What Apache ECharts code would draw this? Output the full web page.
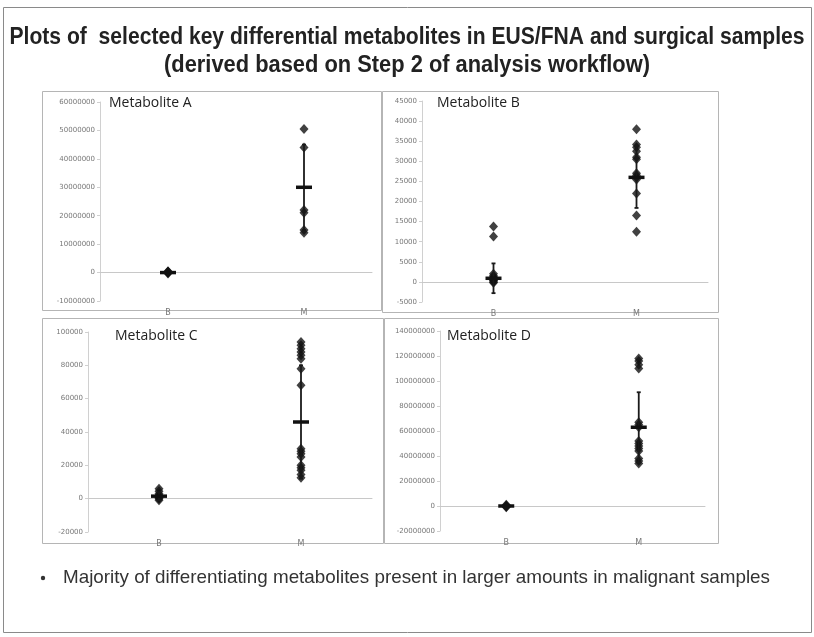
<!DOCTYPE html>
<html><head><meta charset="utf-8">
<script src="https://cdn.jsdelivr.net/npm/echarts@6/dist/echarts.min.js"></script>
<style>html,body{margin:0;padding:0;background:#fff}#c{width:814px;height:637px}</style>
</head><body><div id="c"></div>
<script>
// ---- data ----
const categories = ['B', 'M'];
const panelTitles = ['Metabolite A', 'Metabolite B', 'Metabolite C', 'Metabolite D'];
// Metabolite A
const aB = [0, 200000, -300000, 500000, -100000, 100000, 300000];
const aM = [50500000, 44000000, 22000000, 21000000, 15000000, 14000000];
const aMean = [0, 30000000];
const aSd = [300000, 15000000];
// Metabolite B
const bB = [13800, 11300, 2000, 1500, 1200, 1000, 800, 600, 500, 300, 0, -200];
const bM = [38000, 34200, 33500, 32500, 31000, 30500, 27000, 26500, 26000, 25500, 22000, 16500, 12500];
const bMean = [900, 26000];
const bSd = [3700, 7600];
// Metabolite C
const cB = [6000, 4500, 3000, 2000, 1000, 500, 0, -1000];
const cM = [94000, 92000, 90000, 88000, 86000, 84000, 78000, 68000, 30000, 28500, 27000, 25000, 20000, 18500, 17000, 14500, 12500];
const cMean = [1500, 46000];
const cSd = [2500, 34000];
// Metabolite D
const dB = [500000, -500000, 0, 1000000, -1000000];
const dM = [118000000, 116000000, 113000000, 110000000, 67000000, 65000000, 63000000, 52000000, 50000000, 48000000, 46000000, 44000000, 38000000, 36000000, 34000000];
const dMean = [0, 63000000];
const dSd = [1000000, 28000000];
// axis ranges (tick labels)
const yMin = [-10000000, -5000, -20000, -20000000];
const yMax = [60000000, 45000, 100000, 140000000];
const yStep = [10000000, 5000, 20000, 20000000];

const mainTitle1 = 'Plots of  selected key differential metabolites in EUS/FNA and surgical samples';
const mainTitle2 = '(derived based on Step 2 of analysis workflow)';
const bulletText = 'Majority of differentiating metabolites present in larger amounts in malignant samples';

// ---- layout ----
const grids = [
  {left: 100, top: 102, width: 272, height: 199},
  {left: 422, top: 101, width: 286, height: 201},
  {left: 88, top: 332, width: 284, height: 200},
  {left: 440, top: 331, width: 265, height: 200}
];
const boxes = [
  [42, 91, 339, 219],
  [382, 91, 336, 221],
  [42, 318, 341, 225],
  [384, 318, 334, 225]
];
const titlePos = [[109, 96], [437, 96], [115, 329], [447, 329]];

const sets = [[aB, aM, aMean, aSd], [bB, bM, bMean, bSd], [cB, cM, cMean, cSd], [dB, dM, dMean, dSd]];

const mctx = document.createElement('canvas').getContext('2d');
function fitScale(text, font, target) {
  mctx.font = font;
  return target / mctx.measureText(text).width;
}
const titleFont = 'bold 23px "Liberation Sans", sans-serif';
const bulletFont = '19px "Liberation Sans", sans-serif';

const xAxis = [], yAxis = [], series = [], graphic = [];
grids.forEach((g, i) => {
  xAxis.push({
    type: 'category', gridIndex: i, data: categories,
    axisLine: {onZero: true, lineStyle: {color: '#c8c8c8', width: 1}},
    axisTick: {show: false},
    axisLabel: {color: '#777', fontSize: 8, margin: 8, fontFamily: 'DejaVu Sans'},
    splitLine: {show: false}
  });
  yAxis.push({
    type: 'value', gridIndex: i, min: yMin[i], max: yMax[i], interval: yStep[i],
    axisLine: {show: true, onZero: false, lineStyle: {color: '#d0d0d0'}},
    axisTick: {show: true, length: 3, lineStyle: {color: '#d0d0d0'}},
    axisLabel: {color: '#777', fontSize: 7, margin: 5, fontFamily: 'DejaVu Sans', formatter: v => String(v)},
    splitLine: {show: false}
  });
  const [pB, pM, mean, sd] = sets[i];
  const pts = pB.map(v => [0, v]).concat(pM.map(v => [1, v]));
  series.push({
    type: 'scatter', xAxisIndex: i, yAxisIndex: i, data: pts,
    symbol: 'diamond', symbolSize: [9, 10],
    itemStyle: {color: '#111'}, silent: true, z: 3
  });
  series.push({
    type: 'custom', xAxisIndex: i, yAxisIndex: i,
    data: mean.map((m, k) => [k, m, sd[k]]),
    renderItem: (params, api) => {
      const x = api.value(0), m = api.value(1), s = api.value(2);
      const top = api.coord([x, m + s]);
      const bot = api.coord([x, m - s]);
      const mid = api.coord([x, m]);
      const st = {stroke: '#1a1a1a', lineWidth: 1.8};
      return {type: 'group', children: [
        {type: 'line', shape: {x1: top[0], y1: top[1], x2: bot[0], y2: bot[1]}, style: st},
        {type: 'line', shape: {x1: top[0] - 2, y1: top[1], x2: top[0] + 2, y2: top[1]}, style: st},
        {type: 'line', shape: {x1: bot[0] - 2, y1: bot[1], x2: bot[0] + 2, y2: bot[1]}, style: st},
        {type: 'line', shape: {x1: mid[0] - 8, y1: mid[1], x2: mid[0] + 8, y2: mid[1]}, style: {stroke: '#111', lineWidth: 3.5}}
      ]};
    },
    z: 4, silent: true
  });
  const b = boxes[i];
  graphic.push({type: 'rect', shape: {x: b[0] + 0.5, y: b[1] + 0.5, width: b[2], height: b[3]},
    style: {fill: 'none', stroke: '#b5b5b5', lineWidth: 1}, z: -1, silent: true});
  graphic.push({type: 'text', x: titlePos[i][0], y: titlePos[i][1],
    style: {text: panelTitles[i], fill: '#222', font: '14px "Open Sans"'}, silent: true});
});

// outer frame, titles and bullet
graphic.push({type: 'rect', shape: {x: 3.5, y: 7.5, width: 808, height: 625},
  style: {fill: 'none', stroke: '#8a8a8a', lineWidth: 1}, silent: true});
graphic.push({type: 'text', x: 407, y: 38, scaleX: fitScale(mainTitle1, titleFont, 795),
  style: {text: mainTitle1, fill: '#222', font: titleFont, textAlign: 'center', textVerticalAlign: 'middle'}});
graphic.push({type: 'text', x: 407, y: 66, scaleX: fitScale(mainTitle2, titleFont, 486),
  style: {text: mainTitle2, fill: '#222', font: titleFont, textAlign: 'center', textVerticalAlign: 'middle'}});
graphic.push({type: 'circle', shape: {cx: 43, cy: 578, r: 2.2}, style: {fill: '#333'}});
graphic.push({type: 'text', x: 63, y: 578, scaleX: fitScale(bulletText, bulletFont, 707),
  style: {text: bulletText, fill: '#333', font: bulletFont, textVerticalAlign: 'middle'}});

const chart = echarts.init(document.getElementById('c'), null, {renderer: 'canvas'});
chart.setOption({
  animation: false,
  backgroundColor: '#fff',
  grid: grids.map(g => Object.assign({containLabel: false}, g)),
  xAxis, yAxis, series, graphic
});
</script></body></html>
